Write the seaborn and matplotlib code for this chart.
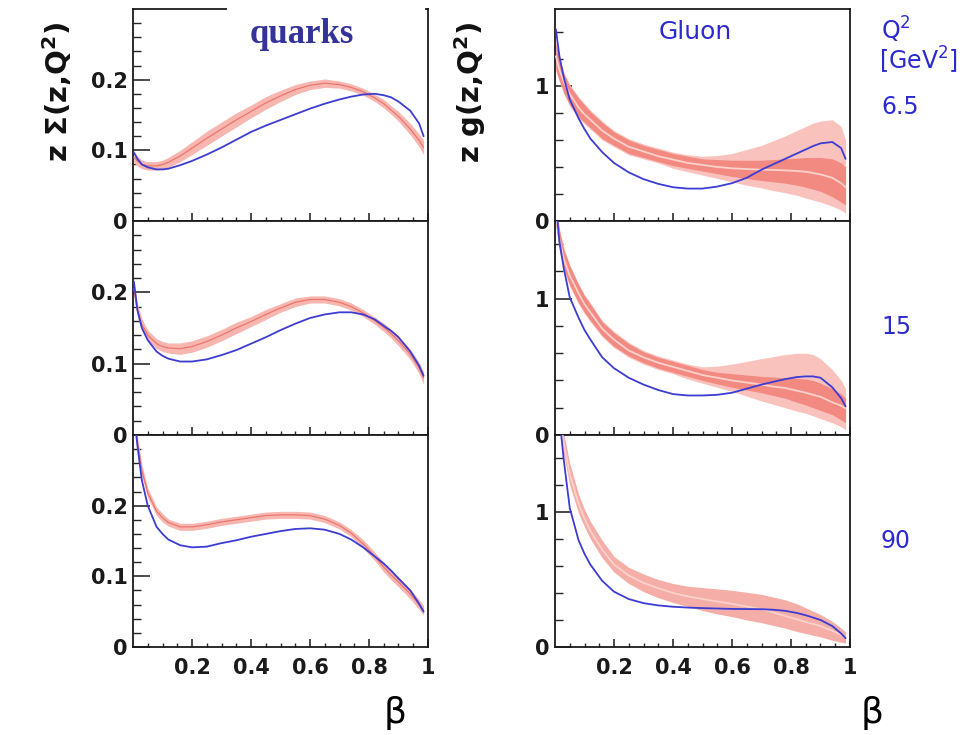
import matplotlib
matplotlib.use("Agg")
import matplotlib.pyplot as plt
import seaborn as sns
from matplotlib.patches import Rectangle

sns.set_theme(style="white")
plt.rcParams['font.family'] = ['DejaVu Sans']
plt.rcParams['mathtext.fontset'] = 'dejavusans'

# common beta grid
beta = [0.003, 0.015, 0.03, 0.05, 0.08, 0.1, 0.12, 0.16, 0.2, 0.25, 0.3, 0.35, 0.4, 0.45,
        0.5, 0.55, 0.6, 0.65, 0.7, 0.74, 0.78, 0.82, 0.85, 0.875, 0.9, 0.94, 0.97, 0.985]

q2_labels = ["6.5", "15", "90"]

# ---- quark singlet  z*Sigma(z,Q^2) ----
q65_blue = [.097, .088, .080, .076, .073, .073, .074, .079, .085, .094, .104, .115, .126, .135,
            .143, .151, .159, .166, .172, .176, .179, .180, .178, .175, .169, .156, .138, .120]
q65_fit = [.090, .085, .080, .078, .078, .080, .083, .092, .103, .117, .130, .143, .155, .167,
           .177, .186, .192, .195, .193, .189, .183, .174, .166, .157, .148, .130, .114, .104]
q65_lo = [.082, .078, .074, .072, .072, .074, .076, .084, .094, .107, .120, .133, .146, .158,
          .169, .179, .186, .189, .188, .184, .178, .169, .160, .151, .141, .122, .105, .094]
q65_hi = [.098, .092, .086, .084, .084, .086, .090, .100, .112, .127, .140, .153, .164, .176,
          .185, .193, .198, .201, .198, .194, .188, .179, .172, .163, .155, .138, .123, .114]

q15_blue = [.215, .175, .150, .133, .117, .111, .107, .103, .103, .106, .112, .119, .128, .137,
            .147, .156, .164, .169, .172, .172, .169, .162, .153, .146, .137, .117, .097, .083]
q15_fit = [.205, .175, .155, .140, .128, .124, .122, .121, .124, .131, .140, .150, .159, .169,
           .178, .186, .190, .190, .186, .180, .171, .160, .151, .142, .132, .113, .094, .080]
q15_lo = [.195, .166, .147, .133, .121, .117, .115, .113, .116, .123, .132, .142, .152, .162,
          .172, .180, .185, .185, .181, .175, .166, .155, .145, .136, .125, .106, .086, .071]
q15_hi = [.215, .184, .163, .147, .135, .131, .129, .129, .132, .139, .148, .158, .166, .176,
          .184, .192, .195, .195, .191, .185, .176, .165, .157, .148, .139, .120, .102, .089]

q90_blue = [.330, .285, .236, .200, .170, .160, .152, .144, .141, .142, .147, .151, .156, .160,
            .164, .167, .168, .166, .160, .152, .141, .128, .118, .108, .097, .080, .061, .050]
q90_fit = [.330, .290, .250, .218, .192, .183, .176, .170, .170, .173, .177, .180, .183, .186,
           .187, .187, .186, .181, .172, .161, .146, .128, .113, .102, .092, .075, .060, .052]
q90_lo = [.320, .281, .242, .211, .186, .177, .171, .165, .165, .168, .172, .175, .178, .181,
          .182, .182, .181, .176, .167, .156, .140, .122, .106, .095, .085, .068, .053, .045]
q90_hi = [.340, .299, .258, .225, .198, .189, .181, .175, .175, .178, .182, .185, .188, .191,
          .192, .192, .191, .186, .177, .166, .152, .134, .120, .109, .099, .082, .067, .059]

# ---- gluon  z*g(z,Q^2) ----
g65_blue = [1.42, 1.22, 1.06, 0.90, 0.76, 0.68, 0.61, 0.51, 0.43, 0.36, 0.31, 0.275, 0.25, 0.24,
            0.24, 0.255, 0.28, 0.32, 0.38, 0.42, 0.46, 0.50, 0.53, 0.555, 0.575, 0.585, 0.54, 0.46]
g65_fit = [1.22, 1.12, 1.03, 0.94, 0.84, 0.79, 0.75, 0.67, 0.61, 0.55, 0.515, 0.48, 0.455, 0.43,
           0.415, 0.40, 0.39, 0.385, 0.38, 0.378, 0.375, 0.37, 0.365, 0.355, 0.345, 0.32, 0.28, 0.25]
g65_in_lo = [1.12, 1.04, 0.95, 0.86, 0.77, 0.73, 0.69, 0.61, 0.56, 0.50, 0.47, 0.44, 0.41, 0.39,
             0.37, 0.35, 0.33, 0.315, 0.30, 0.29, 0.28, 0.265, 0.25, 0.235, 0.22, 0.18, 0.14, 0.12]
g65_in_hi = [1.32, 1.20, 1.09, 1.00, 0.91, 0.86, 0.81, 0.73, 0.66, 0.60, 0.56, 0.53, 0.50, 0.48,
             0.46, 0.455, 0.45, 0.45, 0.45, 0.455, 0.46, 0.465, 0.47, 0.47, 0.47, 0.46, 0.43, 0.40]
g65_out_lo = [1.11, 1.03, 0.94, 0.85, 0.76, 0.72, 0.68, 0.60, 0.55, 0.49, 0.46, 0.43, 0.39, 0.365,
              0.34, 0.315, 0.29, 0.265, 0.245, 0.225, 0.21, 0.19, 0.17, 0.155, 0.14, 0.11, 0.08, 0.06]
g65_out_hi = [1.33, 1.21, 1.10, 1.01, 0.92, 0.87, 0.82, 0.74, 0.67, 0.61, 0.57, 0.54, 0.51, 0.49,
              0.48, 0.485, 0.50, 0.53, 0.56, 0.595, 0.63, 0.67, 0.70, 0.725, 0.74, 0.75, 0.70, 0.60]

g15_blue = [1.70, 1.42, 1.22, 1.01, 0.86, 0.77, 0.70, 0.57, 0.49, 0.42, 0.37, 0.33, 0.30, 0.29,
            0.29, 0.295, 0.31, 0.34, 0.37, 0.39, 0.41, 0.425, 0.43, 0.43, 0.42, 0.35, 0.27, 0.21]
g15_fit = [1.62, 1.43, 1.29, 1.17, 1.04, 0.96, 0.90, 0.78, 0.70, 0.62, 0.57, 0.53, 0.50, 0.47,
           0.44, 0.42, 0.40, 0.385, 0.37, 0.355, 0.345, 0.325, 0.31, 0.295, 0.28, 0.24, 0.215, 0.195]
g15_in_lo = [1.54, 1.36, 1.22, 1.10, 0.97, 0.90, 0.84, 0.73, 0.65, 0.58, 0.53, 0.49, 0.46, 0.43,
             0.40, 0.375, 0.35, 0.33, 0.31, 0.29, 0.27, 0.24, 0.22, 0.20, 0.18, 0.15, 0.11, 0.09]
g15_in_hi = [1.70, 1.50, 1.36, 1.24, 1.10, 1.02, 0.96, 0.83, 0.75, 0.67, 0.61, 0.57, 0.54, 0.51,
             0.48, 0.46, 0.45, 0.44, 0.43, 0.425, 0.42, 0.415, 0.41, 0.40, 0.38, 0.34, 0.30, 0.27]
g15_out_lo = [1.53, 1.35, 1.21, 1.09, 0.96, 0.89, 0.83, 0.72, 0.64, 0.57, 0.52, 0.48, 0.45, 0.41,
              0.38, 0.35, 0.32, 0.285, 0.25, 0.225, 0.20, 0.175, 0.16, 0.14, 0.12, 0.09, 0.06, 0.04]
g15_out_hi = [1.71, 1.51, 1.37, 1.25, 1.11, 1.03, 0.97, 0.84, 0.76, 0.68, 0.62, 0.58, 0.55, 0.52,
              0.50, 0.505, 0.52, 0.54, 0.56, 0.575, 0.59, 0.60, 0.60, 0.59, 0.56, 0.48, 0.40, 0.34]

g90_blue = [1.90, 1.70, 1.38, 1.03, 0.79, 0.69, 0.61, 0.49, 0.41, 0.355, 0.325, 0.308, 0.298, 0.292,
            0.288, 0.285, 0.282, 0.281, 0.28, 0.276, 0.268, 0.252, 0.235, 0.218, 0.20, 0.155, 0.10, 0.065]
g90_fit = [1.90, 1.75, 1.50, 1.28, 1.06, 0.95, 0.86, 0.72, 0.61, 0.53, 0.475, 0.435, 0.40, 0.375,
           0.355, 0.337, 0.32, 0.30, 0.28, 0.255, 0.23, 0.205, 0.185, 0.17, 0.155, 0.12, 0.09, 0.07]
g90_out_lo = [1.80, 1.65, 1.42, 1.20, 0.99, 0.89, 0.80, 0.66, 0.555, 0.47, 0.41, 0.365, 0.33, 0.30,
              0.27, 0.245, 0.225, 0.20, 0.18, 0.16, 0.14, 0.115, 0.10, 0.087, 0.075, 0.05, 0.035, 0.03]
g90_out_hi = [2.00, 1.85, 1.58, 1.36, 1.13, 1.02, 0.93, 0.79, 0.67, 0.59, 0.54, 0.50, 0.47, 0.45,
              0.44, 0.43, 0.42, 0.405, 0.39, 0.37, 0.35, 0.32, 0.29, 0.265, 0.24, 0.19, 0.14, 0.11]

x_ticks = [0.2, 0.4, 0.6, 0.8, 1.0]
x_ticklabels = ["0.2", "0.4", "0.6", "0.8", "1"]

BLUE = "#3c3cd4"
PINK = "#f7b6b0"
SALMON = "#f28a82"
TEXT_BLUE = "#2a2ad0"

W, H = 978, 735
fig = plt.figure(figsize=(W / 100, H / 100), dpi=100)
fig.patch.set_facecolor("white")


def px_axes(x0, x1, y_top, y_bot):
    return fig.add_axes([x0 / W, 1 - y_bot / H, (x1 - x0) / W, (y_bot - y_top) / H])


rows = [(9, 221), (221, 435), (435, 647)]
left_axes = [px_axes(133, 428, t, b) for t, b in rows]
right_axes = [px_axes(555, 850, t, b) for t, b in rows]


def style(ax, ymax, ymaj, ymaj_lbl, ymin_step, bottom_row):
    ax.set_xlim(0, 1)
    ax.set_ylim(0, ymax)
    ax.set_facecolor("white")
    for s in ax.spines.values():
        s.set_visible(True)
        s.set_color("#1a1a1a")
        s.set_linewidth(1.3)
    ax.set_xticks(x_ticks)
    ax.set_xticks([i * 0.05 for i in range(1, 20)], minor=True)
    if bottom_row:
        ax.set_xticklabels(x_ticklabels, fontsize=15, fontweight="bold")
    else:
        ax.set_xticklabels([])
    ax.set_yticks(ymaj)
    ax.set_yticklabels(ymaj_lbl, fontsize=15, fontweight="bold")
    n = int(round(ymax / ymin_step))
    ax.set_yticks([i * ymin_step for i in range(1, n + 1) if i * ymin_step < ymax], minor=True)
    ax.tick_params(axis="x", which="major", direction="in", length=6, width=1.1,
                   bottom=True, top=False, pad=8, colors="#1a1a1a")
    ax.tick_params(axis="x", which="minor", direction="in", length=3, width=1.0,
                   bottom=True, top=False)
    ax.tick_params(axis="y", which="major", direction="in", length=12, width=1.1,
                   left=True, right=False, pad=4, colors="#1a1a1a")
    ax.tick_params(axis="y", which="minor", direction="in", length=6, width=1.0,
                   left=True, right=False)
    ax.set_xlabel("")
    ax.set_ylabel("")


quark_sets = [(q65_blue, q65_fit, q65_lo, q65_hi),
              (q15_blue, q15_fit, q15_lo, q15_hi),
              (q90_blue, q90_fit, q90_lo, q90_hi)]

for i, (ax, (bl, fit, lo, hi)) in enumerate(zip(left_axes, quark_sets)):
    ax.fill_between(beta, lo, hi, color=PINK, lw=0, zorder=1)
    sns.lineplot(x=beta, y=fit, ax=ax, color="#ec6f68", linewidth=0.9, alpha=0.9, zorder=3)
    sns.lineplot(x=beta, y=bl, ax=ax, color=BLUE, linewidth=1.3, zorder=4)
    style(ax, 0.3, [0, 0.1, 0.2], ["0", "0.1", "0.2"], 0.02, i == 2)

gluon_sets = [(g65_blue, g65_fit, g65_in_lo, g65_in_hi, g65_out_lo, g65_out_hi),
              (g15_blue, g15_fit, g15_in_lo, g15_in_hi, g15_out_lo, g15_out_hi),
              (g90_blue, g90_fit, None, None, g90_out_lo, g90_out_hi)]

for i, (ax, (bl, fit, ilo, ihi, olo, ohi)) in enumerate(zip(right_axes, gluon_sets)):
    ax.fill_between(beta, olo, ohi, color="#f9c2bd" if ilo is not None else "#f5ada7",
                    lw=0, zorder=1)
    if ilo is not None:
        ax.fill_between(beta, ilo, ihi, color=SALMON, lw=0, zorder=2)
    sns.lineplot(x=beta, y=fit, ax=ax, color="#fbd2cb", linewidth=1.3, zorder=3)
    sns.lineplot(x=beta, y=bl, ax=ax, color=BLUE, linewidth=1.3, zorder=4)
    style(ax, 1.57, [0, 1], ["0", "1"], 0.2, i == 2)

# axis titles
fig.text(57 / W, 1 - 92 / H, r"$\mathbf{z\ \Sigma(z{,}Q^2)}$", rotation=90, ha="center",
         va="center", fontsize=21, color="#111111")
fig.text(470 / W, 1 - 92 / H, r"$\mathbf{z\ g(z{,}Q^2)}$", rotation=90, ha="center",
         va="center", fontsize=21, color="#111111")

fig.text(395 / W, 1 - 713 / H, "\u03b2", ha="center", va="center", fontsize=26, color="black")
fig.text(872 / W, 1 - 713 / H, "\u03b2", ha="center", va="center", fontsize=26, color="black")

# white label box for the quark column
fig.add_artist(Rectangle((227 / W, 1 - 65 / H), 198 / W, 65 / H, transform=fig.transFigure,
                         facecolor="white", edgecolor="none", zorder=10))
fig.text(302 / W, 1 - 43 / H, "quarks", ha="center", va="baseline", fontsize=25,
         fontweight="bold", family="Liberation Serif", color="#333399", zorder=11)

fig.text(695 / W, 1 - 32 / H, "Gluon", ha="center", va="center", fontsize=18, color=TEXT_BLUE)

fig.text(881 / W, 1 - 30 / H, r"Q$^2$", ha="left", va="center", fontsize=17, color=TEXT_BLUE)
fig.text(879 / W, 1 - 60 / H, r"[GeV$^2$]", ha="left", va="center", fontsize=17, color=TEXT_BLUE)
for lbl, yc in zip(q2_labels, [107, 327, 541]):
    fig.text(881 / W, 1 - yc / H, lbl, ha="left", va="center", fontsize=17, color=TEXT_BLUE)

fig.savefig("out.png", dpi=100, facecolor="white")
